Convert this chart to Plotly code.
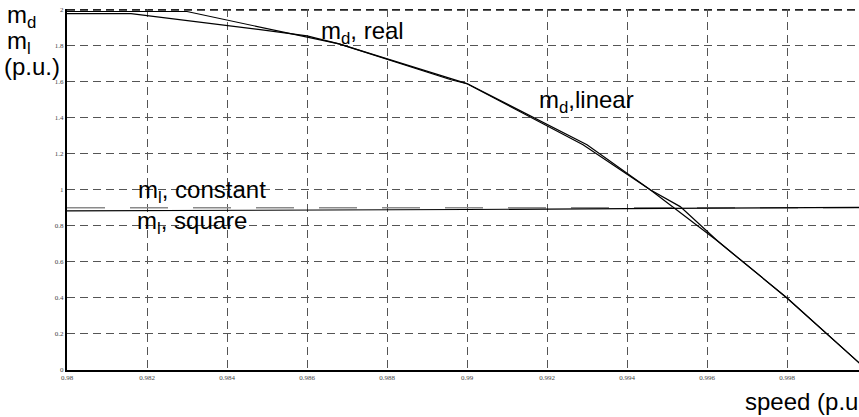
import plotly.graph_objects as go

# m_d, linear (piecewise approximation)
speed_lin = [0.980, 0.983, 0.9868, 0.990, 0.993, 0.99458, 0.99533, 0.99628, 0.998, 1.000]
md_lin = [1.990, 1.990, 1.810, 1.590, 1.250, 1.000, 0.907, 0.713, 0.400, 0.000]

# m_d, real
speed_real = [0.980, 0.9816, 0.98483, 0.9860, 0.9868, 0.9896, 0.9900, 0.9929, 0.99458, 0.99628, 0.998, 1.000]
md_real = [1.978, 1.978, 1.889, 1.855, 1.810, 1.611, 1.589, 1.250, 1.000, 0.713, 0.400, 0.000]

# m_l, constant
speed_const = [0.980, 1.000]
ml_const = [0.900, 0.900]

# m_l, square
speed_sq = [0.980, 0.985, 0.990, 0.995, 1.000]
ml_sq = [0.883, 0.886, 0.891, 0.897, 0.903]

x_ticks = [0.98, 0.982, 0.984, 0.986, 0.988, 0.99, 0.992, 0.994, 0.996, 0.998]
x_ticklabels = ["0.98", "0.982", "0.984", "0.986", "0.988", "0.99", "0.992", "0.994", "0.996", "0.998"]
y_ticks = [0, 0.2, 0.4, 0.6, 0.8, 1.0, 1.2, 1.4, 1.6, 1.8, 2.0]
y_ticklabels = ["0", "0.2", "0.4", "0.6", "0.8", "1", "1.2", "1.4", "1.6", "1.8", "2"]

fig = go.Figure()
fig.add_trace(go.Scatter(x=speed_const, y=ml_const, mode="lines",
                         line=dict(color="#8a8a8a", width=1.5, dash="38px,25px")))
fig.add_trace(go.Scatter(x=speed_sq, y=ml_sq, mode="lines",
                         line=dict(color="black", width=1.2)))
fig.add_trace(go.Scatter(x=speed_real, y=md_real, mode="lines",
                         line=dict(color="black", width=1.2)))
fig.add_trace(go.Scatter(x=speed_lin, y=md_lin, mode="lines",
                         line=dict(color="black", width=1.2)))

W, H = 859, 417
L, T, B = 67, 9, 47
fig.update_layout(
    width=W, height=H,
    margin=dict(l=L, r=0, t=T, b=B),
    paper_bgcolor="white", plot_bgcolor="white",
    showlegend=False,
    font=dict(family="Liberation Sans, Arial, sans-serif", color="black"),
)
fig.update_xaxes(range=[0.98, 0.98 + (W - L) / 40000], tickvals=x_ticks, ticktext=x_ticklabels,
                 showgrid=True, gridcolor="#555555", gridwidth=1, griddash="8px,5px",
                 showline=True, linecolor="black", linewidth=2, zeroline=False,
                 ticks="", tickfont=dict(family="Liberation Serif, serif", size=7, color="#444444"))
fig.update_yaxes(range=[0, 2.004], tickvals=y_ticks, ticktext=y_ticklabels,
                 showgrid=True, gridcolor="#555555", gridwidth=1, griddash="8px,5px",
                 showline=True, linecolor="black", linewidth=2, zeroline=False,
                 ticks="", tickfont=dict(family="Liberation Serif, serif", size=7, color="#444444"))

# thicker dashed top frame at the 2.0 level
fig.add_shape(type="line", xref="paper", x0=0, x1=1, yref="y", y0=2.0, y1=2.0,
              line=dict(color="#222222", width=2.2, dash="8px,5px"), layer="below")

fs = 24
def ann(text, x, y, **kw):
    d = dict(text=text, x=x, y=y, showarrow=False, xanchor="left", yanchor="middle",
             font=dict(size=fs, color="black", family="Liberation Sans, Arial, sans-serif"))
    d.update(kw)
    fig.add_annotation(**d)

ann("m<sub>d</sub>, real", 0.98631, 1.875)
ann("m<sub>d</sub>,linear", 0.99175, 1.49)
ann("m<sub>l</sub>, constant", 0.98172, 0.99)
ann("m<sub>l</sub>, square", 0.98170, 0.82)

# left axis title block
ann("m<sub>d</sub>", 0, 1, xref="paper", yref="paper", xshift=-L + 5, yshift=10, yanchor="top")
ann("m<sub>l</sub>", 0, 1, xref="paper", yref="paper", xshift=-L + 5, yshift=-16, yanchor="top")
ann("(p.u.)", 0, 1, xref="paper", yref="paper", xshift=-L + 2, yshift=-42, yanchor="top")
# x axis title
ann("speed (p.u.)", 0, 0, xref="paper", yref="paper", xshift=745 - L - 2, yshift=-31, yanchor="middle")

fig.write_html("out.html")
